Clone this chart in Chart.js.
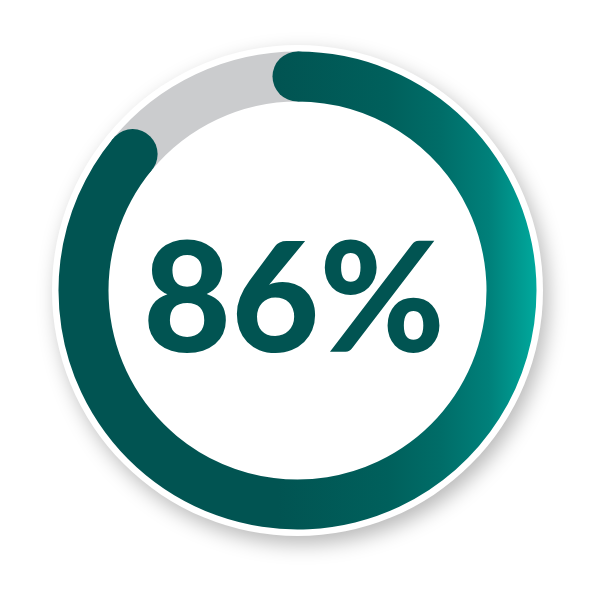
<!DOCTYPE html>
<html>
<head>
<meta charset="utf-8">
<script src="https://cdn.jsdelivr.net/npm/chart.js@4"></script>
<style>
  html, body { margin: 0; padding: 0; background: #fff; }
  #wrap { width: 601px; height: 601px; position: relative; }
</style>
</head>
<body>
<div id="wrap"><canvas id="gauge"></canvas></div>
<script>
// gauge values
const labels = ['Done', 'Remaining'];
const values = [86, 14];
const centerLabel = '86%';

const TEAL_DARK = '#015452';
const GREY = '#CBCCCE';

// horizontal teal gradient across the ring
function ringGradient(chart) {
  const area = chart.chartArea;
  if (!area) return TEAL_DARK;
  const g = chart.ctx.createLinearGradient(area.left, 0, area.right, 0);
  g.addColorStop(0, TEAL_DARK);
  g.addColorStop(0.46, TEAL_DARK);
  g.addColorStop(0.69, '#00605C');
  g.addColorStop(0.8, '#006D68');
  g.addColorStop(0.9, '#00807A');
  g.addColorStop(1, '#00A99D');
  return g;
}

// white disc with soft shadow behind the ring
const discPlugin = {
  id: 'disc',
  beforeDatasetsDraw(chart) {
    const arc = chart.getDatasetMeta(0).data[0];
    if (!arc) return;
    const ctx = chart.ctx;
    ctx.save();
    ctx.shadowColor = 'rgba(0,0,0,0.28)';
    ctx.shadowBlur = 20;
    ctx.shadowOffsetX = 5;
    ctx.shadowOffsetY = 8;
    ctx.fillStyle = '#fff';
    ctx.beginPath();
    ctx.arc(arc.x, arc.y, arc.outerRadius + 6.5, 0, Math.PI * 2);
    ctx.fill();
    ctx.restore();
  }
};

// round caps on the value arc + label in the middle
const capPlugin = {
  id: 'caps',
  afterDatasetsDraw(chart) {
    const arc = chart.getDatasetMeta(0).data[0];
    if (!arc) return;
    const ctx = chart.ctx;
    const mid = (arc.outerRadius + arc.innerRadius) / 2;
    const half = (arc.outerRadius - arc.innerRadius) / 2;
    ctx.save();
    ctx.fillStyle = ringGradient(chart);
    [arc.startAngle, arc.endAngle].forEach(a => {
      ctx.beginPath();
      ctx.arc(arc.x + mid * Math.cos(a), arc.y + mid * Math.sin(a), half, 0, Math.PI * 2);
      ctx.fill();
    });
    ctx.fillStyle = TEAL_DARK;
    ctx.font = '900 152px Lato';
    ctx.textAlign = 'center';
    ctx.textBaseline = 'alphabetic';
    ctx.fillText(centerLabel, arc.x - 3.5, arc.y + 61.5);
    ctx.restore();
  }
};

new Chart(document.getElementById('gauge'), {
  type: 'doughnut',
  data: {
    labels,
    datasets: [{
      data: values,
      backgroundColor: ctx => ctx.dataIndex === 0 ? ringGradient(ctx.chart) : GREY,
      borderWidth: 0
    }]
  },
  options: {
    responsive: true,
    maintainAspectRatio: false,
    animation: false,
    events: [],
    cutout: 189,
    layout: { padding: { left: 58.5, right: 64.5, top: 51.5, bottom: 71.5 } },
    plugins: { legend: { display: false }, tooltip: { enabled: false } }
  },
  plugins: [discPlugin, capPlugin]
});
</script>
</body>
</html>
